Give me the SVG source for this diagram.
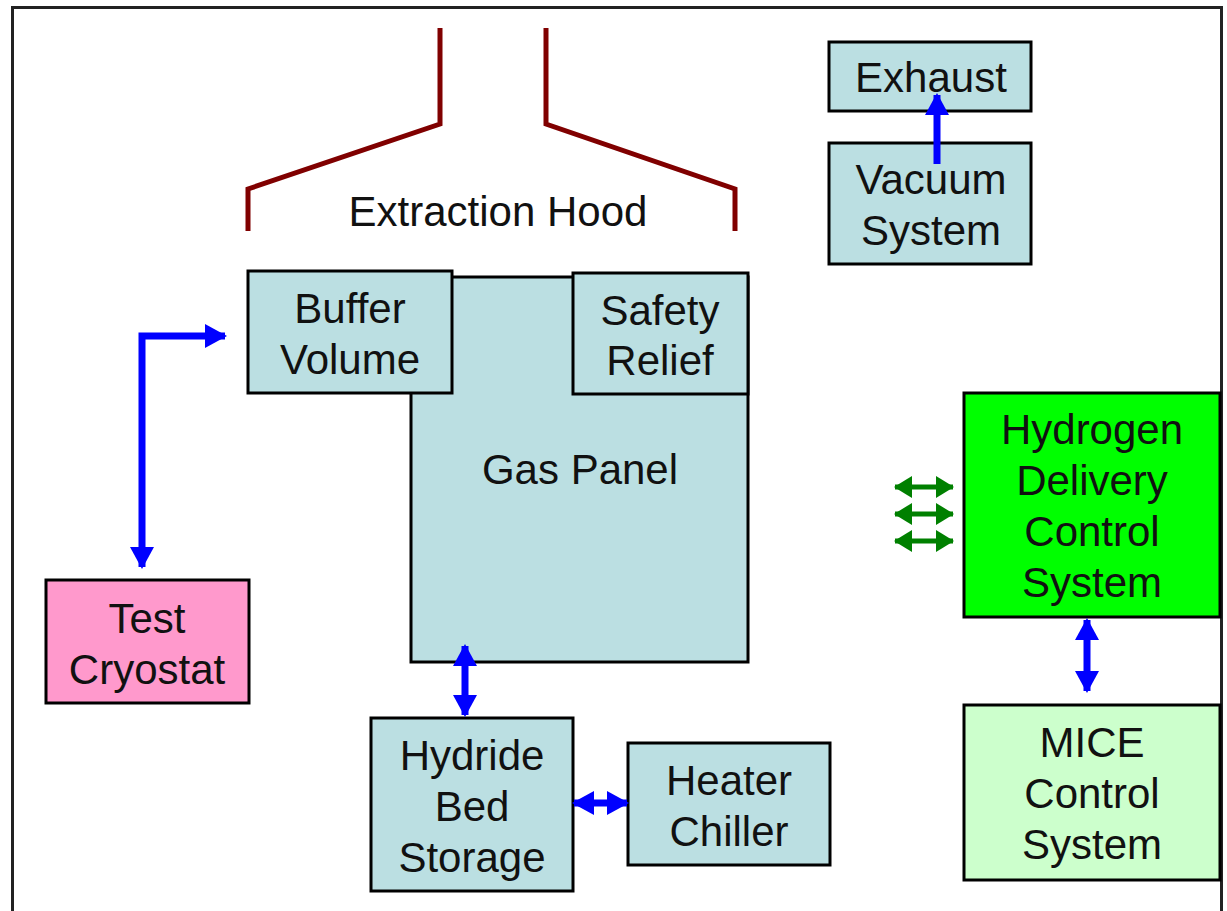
<svg xmlns="http://www.w3.org/2000/svg" width="1227" height="911" viewBox="0 0 1227 911">
<style>
.box{stroke:#000;stroke-width:3}
.blue{fill:#BBDFE2}
text{font-family:"Liberation Sans",Arial,sans-serif;font-size:42px;fill:#111;text-anchor:middle}
.hood{fill:none;stroke:#800000;stroke-width:5}
.ba{stroke:#0000FF;stroke-width:7;fill:none}
.ga{stroke:#008000;stroke-width:5;fill:none}
</style>
<defs>
<marker id="bh" markerUnits="userSpaceOnUse" viewBox="0 0 22 24" markerWidth="22" markerHeight="24" refX="20" refY="12" orient="auto-start-reverse">
<path d="M0,0 L22,12 L0,24 Z" fill="#0000FF"/>
</marker>
<marker id="gh" markerUnits="userSpaceOnUse" viewBox="0 0 18 22" markerWidth="18" markerHeight="22" refX="17" refY="11" orient="auto-start-reverse">
<path d="M0,0 L18,11 L0,22 Z" fill="#008000"/>
</marker>
</defs>
<rect width="1227" height="911" fill="#fff"/>
<path d="M12.5,920 V7.5 H1221.5 V920" fill="none" stroke="#222" stroke-width="3"/>

<g id="hood">
<path class="hood" d="M248,231 V189 L440,124 V28"/>
<path class="hood" d="M735,231 V189 L546,124 V28"/>
<text x="498" y="226">Extraction Hood</text>
</g>

<g id="gas-panel">
<rect class="box blue" x="411" y="277" width="337" height="385"/>
<text x="580" y="484">Gas Panel</text>
</g>
<g id="buffer-volume">
<rect class="box blue" x="248" y="271" width="204" height="122"/>
<text x="350" y="323">Buffer</text>
<text x="350" y="374">Volume</text>
</g>
<g id="safety-relief">
<rect class="box blue" x="573" y="273" width="175" height="121"/>
<text x="660" y="325">Safety</text>
<text x="660" y="375">Relief</text>
</g>
<g id="exhaust">
<rect class="box blue" x="829" y="42" width="202" height="69"/>
<text x="931" y="92">Exhaust</text>
</g>
<g id="vacuum-system">
<rect class="box blue" x="829" y="143" width="202" height="121"/>
<text x="931" y="194">Vacuum</text>
<text x="931" y="245">System</text>
</g>
<g id="test-cryostat">
<rect class="box" fill="#FF99CC" x="46" y="580" width="203" height="123"/>
<text x="147" y="633">Test</text>
<text x="147" y="684">Cryostat</text>
</g>
<g id="hydride-bed">
<rect class="box blue" x="371" y="718" width="202" height="173"/>
<text x="472" y="770">Hydride</text>
<text x="472" y="821">Bed</text>
<text x="472" y="872">Storage</text>
</g>
<g id="heater-chiller">
<rect class="box blue" x="628" y="743" width="202" height="122"/>
<text x="729" y="795">Heater</text>
<text x="729" y="846">Chiller</text>
</g>
<g id="hdcs">
<rect class="box" fill="#00FF00" x="964" y="393" width="256" height="224"/>
<text x="1092" y="444">Hydrogen</text>
<text x="1092" y="495">Delivery</text>
<text x="1092" y="546">Control</text>
<text x="1092" y="597">System</text>
</g>
<g id="mice">
<rect class="box" fill="#CCFFCC" x="964" y="705" width="256" height="175"/>
<text x="1092" y="757">MICE</text>
<text x="1092" y="808">Control</text>
<text x="1092" y="859">System</text>
</g>

<g id="connectors">
<path class="ba" d="M142,567 V336 H225" marker-start="url(#bh)" marker-end="url(#bh)"/>
<path class="ba" d="M465,646 V715" marker-start="url(#bh)" marker-end="url(#bh)"/>
<path class="ba" d="M574,803 H627" marker-start="url(#bh)" marker-end="url(#bh)"/>
<path class="ba" d="M1087,620 V691" marker-start="url(#bh)" marker-end="url(#bh)"/>
<path class="ba" d="M937,164 V95" marker-end="url(#bh)"/>
<path class="ga" d="M895,487 H953" marker-start="url(#gh)" marker-end="url(#gh)"/>
<path class="ga" d="M895,514 H953" marker-start="url(#gh)" marker-end="url(#gh)"/>
<path class="ga" d="M895,541 H953" marker-start="url(#gh)" marker-end="url(#gh)"/>
</g>
</svg>
